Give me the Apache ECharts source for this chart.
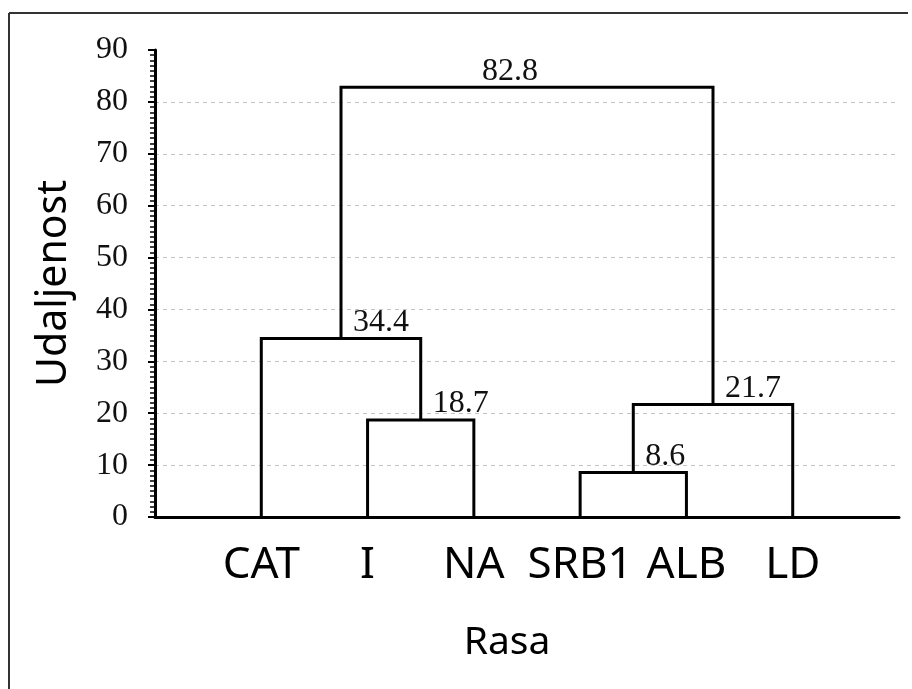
<!DOCTYPE html>
<html lang="en">
<head>
    <meta charset="UTF-8">
    <title>Dendrogram</title>
    <script src="https://cdn.jsdelivr.net/npm/echarts@6/dist/echarts.min.js"></script>
</head>
<body style="margin:0;background:#fff;">
<div id="tree" style="width: 912px;height: 689px;"></div>
<script>
    // leaves, left to right
    var leaves = ['CAT', 'I', 'NA', 'SRB1', 'ALB', 'LD'];
    // merges (linkage): left cluster, right cluster, distance
    var mergeLeft = ['I', 'CAT', 'SRB1', 'SRB1+ALB', 'CAT+I+NA'];
    var mergeRight = ['NA', 'I+NA', 'ALB', 'LD', 'SRB1+ALB+LD'];
    var mergeHeight = [18.7, 34.4, 8.6, 21.7, 82.8];
    var yTicks = [0, 10, 20, 30, 40, 50, 60, 70, 80, 90];

    // position and height of every cluster
    var nodeX = {}, nodeH = {};
    leaves.forEach(function (name, i) {
        nodeX[name] = i + 1;
        nodeH[name] = 0;
    });
    var links = [];
    for (var i = 0; i < mergeHeight.length; i++) {
        var a = mergeLeft[i], b = mergeRight[i];
        var name = a + '+' + b;
        nodeX[name] = (nodeX[a] + nodeX[b]) / 2;
        nodeH[name] = mergeHeight[i];
        links.push([nodeX[a], nodeH[a], nodeX[b], nodeH[b], mergeHeight[i], i === mergeHeight.length - 1 ? 1 : 0]);
    }

    var myChart = echarts.init(document.getElementById('tree'));
    var option = {
        backgroundColor: '#fff',
        animation: false,
        grid: {
            left: 155,
            right: 13,
            top: 50,
            bottom: 172
        },
        graphic: [
            { type: 'line', shape: { x1: 9, y1: 13, x2: 9, y2: 689 }, style: { stroke: '#333', lineWidth: 2 } },
            { type: 'line', shape: { x1: 9, y1: 13, x2: 908, y2: 13 }, style: { stroke: '#333', lineWidth: 2 } }
        ],
        xAxis: {
            type: 'value',
            min: 0,
            max: leaves.length + 1,
            interval: 1,
            name: 'Rasa',
            nameLocation: 'middle',
            nameGap: 106,
            nameTextStyle: {
                fontFamily: 'Noto Sans',
                fontSize: 39,
                color: '#000',
                padding: [0, 40, 0, 0]
            },
            axisLine: { lineStyle: { color: '#000', width: 3 } },
            axisTick: { show: false },
            splitLine: { show: false },
            axisLabel: {
                margin: 26,
                fontFamily: 'Noto Sans',
                fontSize: 44,
                color: '#000',
                formatter: function (v) {
                    return leaves[v - 1] || '';
                }
            }
        },
        yAxis: {
            type: 'value',
            min: yTicks[0],
            max: yTicks[yTicks.length - 1],
            interval: 10,
            name: 'Udaljenost',
            nameLocation: 'middle',
            nameGap: 80,
            nameTextStyle: {
                fontFamily: 'Noto Sans',
                fontSize: 41,
                color: '#000'
            },
            axisLine: { show: true, lineStyle: { color: '#000', width: 3 } },
            axisTick: { show: true, length: 7, lineStyle: { color: '#000', width: 2 } },
            minorTick: { show: true, splitNumber: 10, length: 5, lineStyle: { color: '#000', width: 1.5 } },
            axisLabel: {
                margin: 27,
                fontFamily: 'Liberation Serif',
                fontSize: 32,
                color: '#111'
            },
            splitLine: {
                show: true,
                showMinLine: false,
                showMaxLine: false,
                lineStyle: { color: '#c4c4c4', type: [4, 4], width: 1 }
            }
        },
        series: [{
            type: 'custom',
            data: links,
            renderItem: function (params, api) {
                var p1 = api.coord([api.value(0), api.value(1)]);
                var p2 = api.coord([api.value(0), api.value(4)]);
                var p3 = api.coord([api.value(2), api.value(4)]);
                var p4 = api.coord([api.value(2), api.value(3)]);
                var isRoot = api.value(5) === 1;
                var midX = (p2[0] + p3[0]) / 2;
                return {
                    type: 'group',
                    children: [{
                        type: 'polyline',
                        shape: { points: [p1, p2, p3, p4] },
                        style: { stroke: '#000', lineWidth: 3, fill: null }
                    }, {
                        type: 'text',
                        x: isRoot ? midX - 17 : midX + 12,
                        y: p2[1],
                        style: {
                            text: String(api.value(4)),
                            font: '32px "Liberation Serif"',
                            fill: '#111',
                            align: isRoot ? 'center' : 'left',
                            verticalAlign: 'bottom'
                        }
                    }]
                };
            }
        }]
    };
    myChart.setOption(option);
</script>
</body>
</html>
